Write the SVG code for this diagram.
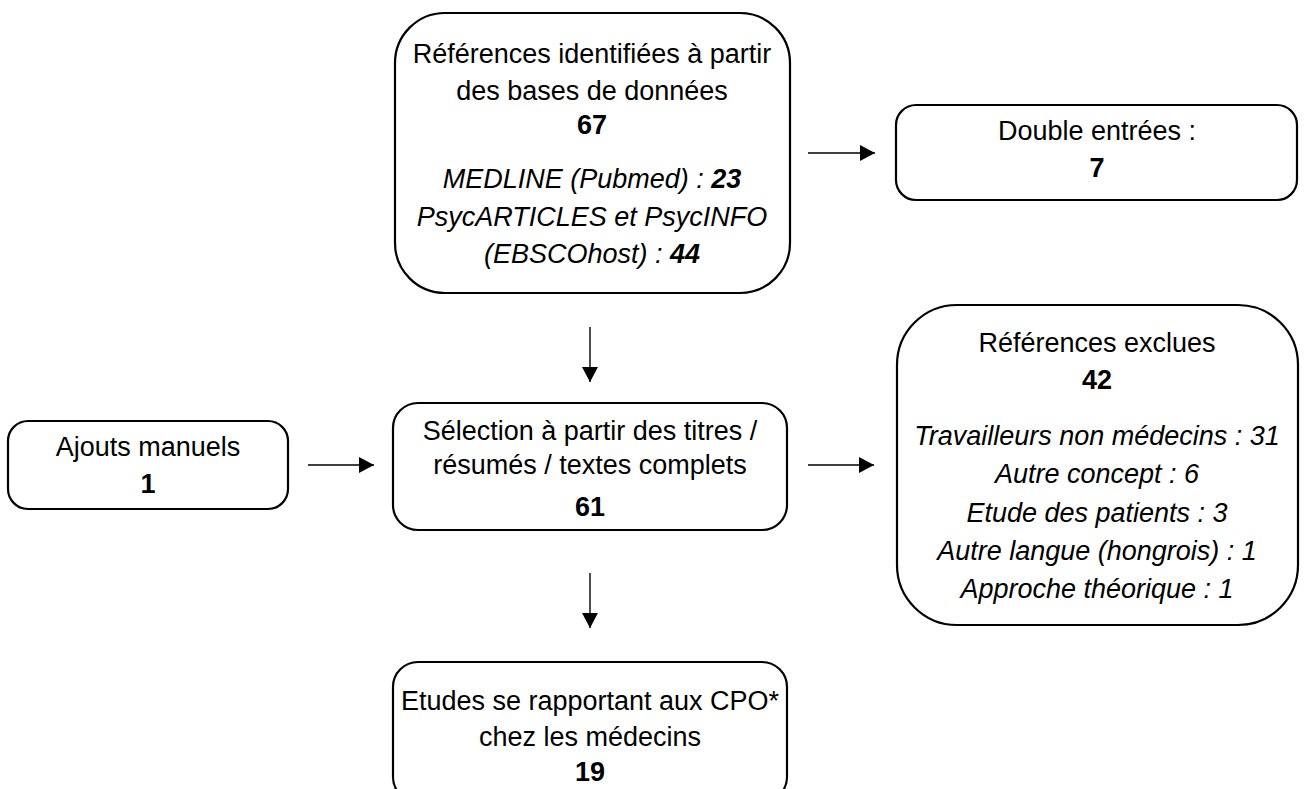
<svg xmlns="http://www.w3.org/2000/svg" width="1307" height="789" viewBox="0 0 1307 789">
<style>
.box{fill:#fff;stroke:#000;stroke-width:2.2}
.t{font-family:"Liberation Sans",Arial,sans-serif;font-size:27px;fill:#000;text-anchor:middle}
.b{font-weight:bold}
.i{font-style:italic}
.conn{stroke:#000;stroke-width:1.4;fill:none;marker-end:url(#ah)}
</style>
<defs>
<marker id="ah" markerUnits="userSpaceOnUse" markerWidth="16" markerHeight="16" refX="15" refY="8" orient="auto">
<path d="M0,0 L15,8 L0,16 Z" fill="#000"/>
</marker>
</defs>
<rect width="1307" height="789" fill="#fff"/>
<g id="connectors">
<line class="conn" x1="590" y1="327" x2="590" y2="382"/>
<line class="conn" x1="808" y1="153" x2="875" y2="153"/>
<line class="conn" x1="308" y1="465" x2="374" y2="465"/>
<line class="conn" x1="808" y1="465" x2="874" y2="465"/>
<line class="conn" x1="590" y1="573" x2="590" y2="628"/>
</g>
<g id="n_identifiees">
<rect class="box" x="395" y="13" width="395" height="280" rx="50" ry="50"/>
<text class="t" x="592" y="63">Références identifiées à partir</text>
<text class="t" x="592" y="100">des bases de données</text>
<text class="t b" x="592" y="134">67</text>
<text class="t i" x="592" y="188">MEDLINE (Pubmed) : <tspan class="b">23</tspan></text>
<text class="t i" x="592" y="226">PsycARTICLES et PsycINFO</text>
<text class="t i" x="592" y="263">(EBSCOhost) : <tspan class="b">44</tspan></text>
</g>
<g id="n_double">
<rect class="box" x="896" y="105" width="401" height="95" rx="20" ry="20"/>
<text class="t" x="1097" y="140">Double entrées :</text>
<text class="t b" x="1097" y="177">7</text>
</g>
<g id="n_ajouts">
<rect class="box" x="8" y="421" width="280" height="88" rx="20" ry="20"/>
<text class="t" x="148" y="456">Ajouts manuels</text>
<text class="t b" x="148" y="493">1</text>
</g>
<g id="n_selection">
<rect class="box" x="393" y="403" width="394" height="127" rx="25" ry="25"/>
<text class="t" x="590" y="440">Sélection à partir des titres /</text>
<text class="t" x="590" y="474">résumés / textes complets</text>
<text class="t b" x="590" y="516">61</text>
</g>
<g id="n_exclues">
<rect class="box" x="897" y="305" width="401" height="320" rx="60" ry="60"/>
<text class="t" x="1097" y="352">Références exclues</text>
<text class="t b" x="1097" y="389">42</text>
<text class="t i" x="1097" y="445">Travailleurs non médecins : 31</text>
<text class="t i" x="1097" y="483">Autre concept : 6</text>
<text class="t i" x="1097" y="522">Etude des patients : 3</text>
<text class="t i" x="1097" y="560">Autre langue (hongrois) : 1</text>
<text class="t i" x="1097" y="598">Approche théorique : 1</text>
</g>
<g id="n_etudes">
<rect class="box" x="393" y="662" width="394" height="140" rx="25" ry="25"/>
<text class="t" x="590" y="710">Etudes se rapportant aux CPO*</text>
<text class="t" x="590" y="746">chez les médecins</text>
<text class="t b" x="590" y="781">19</text>
</g>
</svg>
